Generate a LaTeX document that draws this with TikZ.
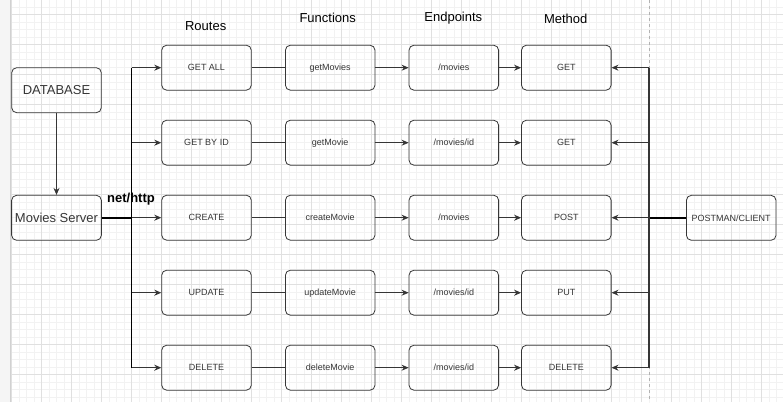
\documentclass[tikz,border=0pt]{standalone}
\usepackage{fontspec}
\setmainfont{Liberation Sans}
\usetikzlibrary{arrows.meta}
\definecolor{gridminor}{HTML}{F2F2F2}
\definecolor{gridmajor}{HTML}{E0E0E0}
\definecolor{ink}{HTML}{363636}

\begin{document}
\begin{tikzpicture}[x = 1pt, y = -1pt]
\tikzstyle{BoxStyle}=[
shape = rectangle,
rounded corners = 5pt,
minimum width = 89.6pt,
minimum height = 45pt,
draw = ink, text = ink,
line width = 0.8pt,
font = \fontsize{9}{10}\selectfont]
\tikzstyle{BigBox}=[BoxStyle, font = \fontsize{13}{15}\selectfont]
\tikzstyle{Head}=[text = black, font = \fontsize{13}{15}\selectfont]
\tikzstyle{wire}=[draw = ink, line width = 0.8pt]
\tikzstyle{post}=[wire, -{Stealth[length = 7pt, width = 6pt]}]

\useasboundingbox (0,0) rectangle (783,402);
% grid
\fill[white] (0,0) rectangle (783,402);
\fill[black!4] (0,0) rectangle (10,402);
\foreach \x in {11.3,18.8,...,783} \draw[gridminor, line width = 0.5pt] (\x,0) -- (\x,402);
\foreach \y in {6.8,14.3,...,402} \draw[gridminor, line width = 0.5pt] (10,\y) -- (783,\y);
\foreach \x in {11.3,41.3,...,783} \draw[gridmajor, line width = 0.6pt] (\x,0) -- (\x,402);
\foreach \y in {14.3,44.3,...,402} \draw[gridmajor, line width = 0.6pt] (10,\y) -- (783,\y);
\draw[black!18, line width = 0.8pt] (10,0) -- (10,402);
\draw[black!30, dashed, line width = 0.6pt] (649,0) -- (649,402);

% headers
\node[Head] (h0) at (205.7,26.5) {Routes};
\node[Head] (h1) at (327.7,17.5) {Functions};
\node[Head] (h2) at (453.3,18.5) {Endpoints};
\node[Head] (h3) at (565.7,18.5) {Method};

% left side
\node[BigBox] (db) at (56.5,90.2) {DATABASE};
\node[BigBox] (srv) at (56.5,217.8) {Movies Server};
\node[BoxStyle] (cli) at (731.2,217.8) {POSTMAN/CLIENT};

% routes
\node[BoxStyle] (r0) at (206.5,67.7) {GET ALL};
\node[BoxStyle] (r1) at (206.5,142.7) {GET BY ID};
\node[BoxStyle] (r2) at (206.5,217.7) {CREATE};
\node[BoxStyle] (r3) at (206.5,292.7) {UPDATE};
\node[BoxStyle] (r4) at (206.5,367.7) {DELETE};

% functions
\node[BoxStyle] (f0) at (330.2,67.7) {getMovies};
\node[BoxStyle] (f1) at (330.2,142.7) {getMovie};
\node[BoxStyle] (f2) at (330.2,217.7) {createMovie};
\node[BoxStyle] (f3) at (330.2,292.7) {updateMovie};
\node[BoxStyle] (f4) at (330.2,367.7) {deleteMovie};

% endpoints
\node[BoxStyle] (e0) at (453.8,67.7) {/movies};
\node[BoxStyle] (e1) at (453.8,142.7) {/movies/id};
\node[BoxStyle] (e2) at (453.8,217.7) {/movies};
\node[BoxStyle] (e3) at (453.8,292.7) {/movies/id};
\node[BoxStyle] (e4) at (453.8,367.7) {/movies/id};

% methods
\node[BoxStyle] (m0) at (566.3,67.7) {GET};
\node[BoxStyle] (m1) at (566.3,142.7) {GET};
\node[BoxStyle] (m2) at (566.3,217.7) {POST};
\node[BoxStyle] (m3) at (566.3,292.7) {PUT};
\node[BoxStyle] (m4) at (566.3,367.7) {DELETE};

% buses
\coordinate (b0) at (131.5,67.7);
\coordinate (b4) at (131.5,367.7);
\coordinate (c0) at (649,67.7);
\coordinate (c4) at (649,367.7);

\draw[post] (db) -- (srv);
\draw[black, line width = 1.6pt] (srv.east) -- (b0 |- srv.east);
\draw[black, line width = 0.9pt] (b0) -- (b4);
\draw[black, line width = 1.6pt] (cli.west) -- (c0 |- cli.west);
\draw[ink, line width = 1.2pt] (c0) -- (c4);
\node[font = \bfseries\fontsize{13}{15}\selectfont] (lbl) at (131,199) {net/http};

\foreach \i in {0,...,4} {
\draw[post] (b0 |- r\i.west) -- (r\i);
\draw[wire] (r\i) -- (f\i);
\draw[post] (f\i) -- (e\i);
\draw[post] (e\i) -- (m\i);
\draw[post] (c0 |- m\i.east) -- (m\i);
}
\end{tikzpicture}
\end{document}
